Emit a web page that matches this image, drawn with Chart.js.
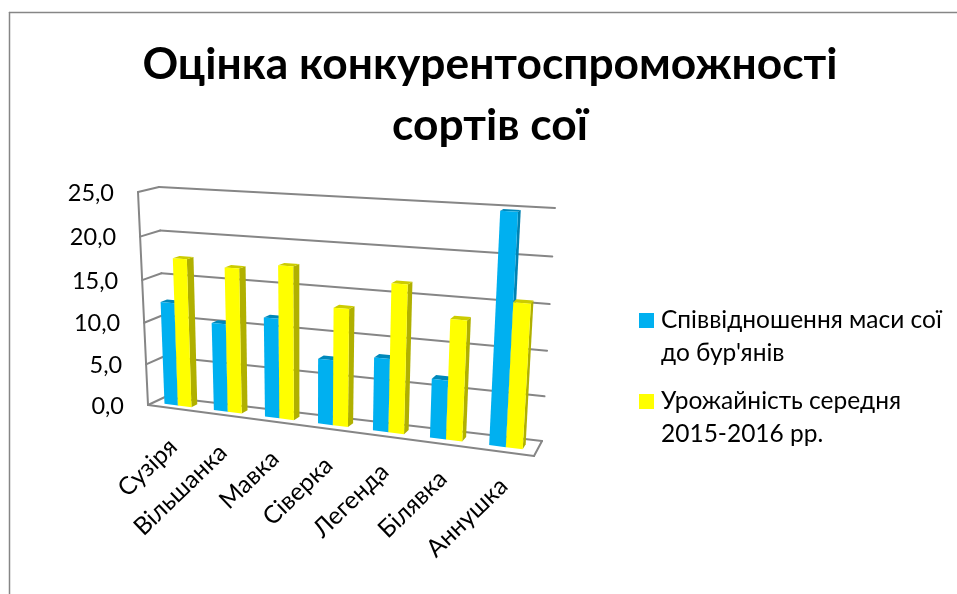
<!DOCTYPE html>
<html><head><meta charset="utf-8">
<style>html,body{margin:0;padding:0;background:#fff;overflow:hidden}#w{position:relative;width:957px;height:594px}</style>
<script src="https://cdn.jsdelivr.net/npm/chart.js@4/dist/chart.umd.min.js"></script>
</head><body><div id="w"><canvas id="c" width="957" height="594"></canvas></div>
<script>
const chartTitle = ['Оцінка конкурентоспроможності', 'сортів сої'];
const categories = ['Сузіря', 'Вільшанка', 'Мавка', 'Сіверка', 'Легенда', 'Білявка', 'Аннушка'];
const massRatio = [12.3, 10.4, 11.6, 7.5, 8.3, 6.6, 24.8];
const yieldAvg = [17.5, 16.9, 17.6, 13.4, 16.6, 13.3, 15.6];
const seriesNames = ['Співвідношення маси сої до бур\'янів', 'Урожайність середня 2015-2016 рр.'];
const legendLines = [['Співвідношення маси сої', 'до бур\'янів'], ['Урожайність середня', '2015-2016 рр.']];
const FONT = 'Lato, "Noto Sans", sans-serif';
const GRID = '#868686';

// projection corners (front plane, back plane): BL, BR, TR, TL
const frontPlane = [[148,405],[534,456],[549,213],[138,192]];
const backPlane  = [[165,397],[542,441],[555,208],[159,187]];
const barDepth = [0.33, 0.67];

function homography(p){
  const [[x0,y0],[x1,y1],[x2,y2],[x3,y3]] = p;
  const dx1=x1-x2, dx2=x3-x2, sx=x0-x1+x2-x3, dy1=y1-y2, dy2=y3-y2, sy=y0-y1+y2-y3;
  const det=dx1*dy2-dx2*dy1;
  const g=(sx*dy2-dx2*sy)/det, h=(dx1*sy-sx*dy1)/det;
  return [x1-x0+g*x1, x3-x0+h*x3, x0, y1-y0+g*y1, y3-y0+h*y3, y0, g, h];
}
const HF=homography(frontPlane), HB=homography(backPlane);
const ap=(H,u,v)=>{const w=H[6]*u+H[7]*v+1;return [(H[0]*u+H[1]*v+H[2])/w,(H[3]*u+H[4]*v+H[5])/w];};
function proj(u,v,d){const a=ap(HF,u,v),b=ap(HB,u,v);return [a[0]+(b[0]-a[0])*d,a[1]+(b[1]-a[1])*d];}
function poly(ctx,pts,fill){ctx.beginPath();pts.forEach((p,i)=>i?ctx.lineTo(p[0],p[1]):ctx.moveTo(p[0],p[1]));ctx.closePath();ctx.fillStyle=fill;ctx.fill();}
function seg(ctx,a,b){ctx.beginPath();ctx.moveTo(a[0],a[1]);ctx.lineTo(b[0],b[1]);ctx.stroke();}

const shades = {'#00B0F0':{top:'#0088BA',side:'#0082B2'},'#FFFF00':{top:'#CCCC00',side:'#B0B000'}};
let ca=null, queue=[];
Chart.BarElement.prototype.draw = function(){ queue.push(this); };
function paintBar(ctx,b){
  const U=px=>(px-ca.left)/(ca.right-ca.left), V=py=>(ca.bottom-py)/(ca.bottom-ca.top);
  const u0=U(b.x-b.width/2),u1=U(b.x+b.width/2),v0=V(b.base),v1=V(b.y);
  const [d0,d1]=barDepth, col=b.options.backgroundColor, s=shades[col];
  poly(ctx,[proj(u1,v0,d0),proj(u1,v0,d1),proj(u1,v1,d1),proj(u1,v1,d0)],s.side);
  poly(ctx,[proj(u0,v1,d0),proj(u1,v1,d0),proj(u1,v1,d1),proj(u0,v1,d1)],s.top);
  poly(ctx,[proj(u0,v0,d0),proj(u1,v0,d0),proj(u1,v1,d0),proj(u0,v1,d0)],col);
}

const scene = {
  id:'scene',
  beforeDatasetsDraw(chart){
    ca=chart.chartArea; queue=[];
    const ctx=chart.ctx, y=chart.scales.y;
    ctx.save();
    ctx.strokeStyle=GRID;ctx.lineWidth=1.5;ctx.lineCap='round';
    // frame
    seg(ctx,[9.5,12.5],[957,12.5]);seg(ctx,[9.5,12.5],[9.5,594]);
    ctx.lineWidth=2;
    y.ticks.forEach(t=>{
      const v=(ca.bottom-y.getPixelForValue(t.value))/(ca.bottom-ca.top);
      seg(ctx,proj(0,v,0),proj(0,v,1));
      seg(ctx,proj(0,v,1),proj(1,v,1));
    });
    seg(ctx,proj(0,0,0),proj(0,1,0));
    seg(ctx,proj(0,0,0),proj(1,0,0));
    seg(ctx,proj(1,0,0),proj(1,0,1));
    ctx.restore();
  },
  afterDatasetsDraw(chart){
    const ctx=chart.ctx, y=chart.scales.y, x=chart.scales.x;
    ctx.save();
    queue.sort((a,b)=>a.x-b.x).forEach(b=>paintBar(ctx,b));
    ctx.fillStyle='#000';ctx.textBaseline='middle';
    ctx.font='23.5px '+FONT;ctx.textAlign='right';
    y.ticks.forEach(t=>{
      const v=(ca.bottom-y.getPixelForValue(t.value))/(ca.bottom-ca.top);
      const p=proj(0,v,0);
      ctx.fillText(t.value.toFixed(1).replace('.',','),p[0]-24,p[1]+1);
    });
    ctx.font='24.5px '+FONT;
    categories.forEach((c,i)=>{
      const u=(x.getPixelForValue(i)-ca.left)/(ca.right-ca.left);
      const p=proj(u,0,0);
      ctx.save();ctx.translate(p[0]+1,p[1]+35-5*u);ctx.rotate(-44*Math.PI/180);
      ctx.textAlign='right';ctx.fillText(c,0,0);ctx.restore();
    });
    ctx.font='24.5px '+FONT;ctx.textAlign='left';
    legendLines.forEach((ls,i)=>{
      ctx.fillStyle=chart.data.datasets[i].backgroundColor;
      ctx.fillRect(639,[313,394][i],15,15);
      ctx.fillStyle='#000';
      ls.forEach((l,j)=>ctx.fillText(l,661,[320,401][i]+j*33));
    });
    ctx.restore();
  }
};

new Chart(document.getElementById('c'),{
  type:'bar',
  data:{labels:categories,datasets:[
    {label:seriesNames[0],data:massRatio,backgroundColor:'#00B0F0'},
    {label:seriesNames[1],data:yieldAvg,backgroundColor:'#FFFF00'}
  ]},
  options:{
    responsive:false,animation:false,
    layout:{padding:{left:23,right:0,top:35,bottom:0}},
    categoryPercentage:0.55,barPercentage:1,
    plugins:{
      legend:{display:false},tooltip:{enabled:false},
      title:{display:true,text:chartTitle,color:'#000',padding:0,font:{family:FONT,size:44.3,weight:'bold',lineHeight:1.36}}
    },
    scales:{
      x:{display:false},
      y:{display:false,min:0,max:25,ticks:{stepSize:5}}
    }
  },
  plugins:[scene]
});
</script></body></html>
